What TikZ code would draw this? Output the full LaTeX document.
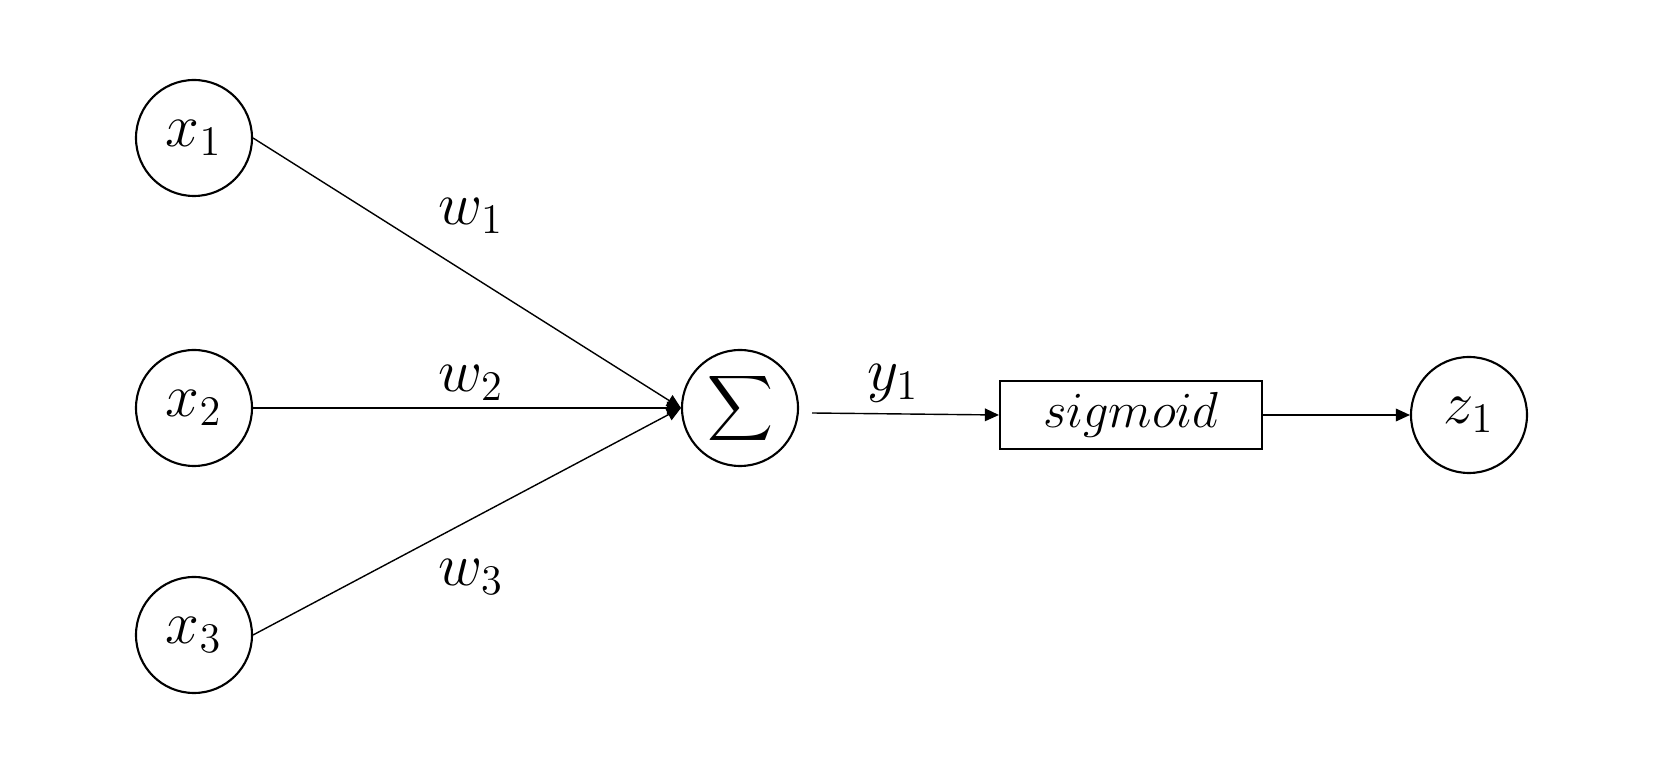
\documentclass[tikz,border=0pt]{standalone}
\usepackage{graphicx}
\usepackage{tikz}
\usetikzlibrary{arrows.meta}

\tikzset{
  unit/.style={draw, circle, line width=0.6pt, minimum size=1.16cm, inner sep=0pt, font=\fontsize{17}{20}\selectfont},
  actbox/.style={draw, rectangle, line width=0.6pt, minimum width=2.62cm, minimum height=0.68cm, inner sep=0pt, font=\fontsize{14.5}{17}\selectfont},
  wlabel/.style={font=\fontsize{17}{20}\selectfont},
  link/.style={line width=0.4pt, -{Triangle[length=4pt, width=3.6pt]}}
}

\begin{document}
\begin{tikzpicture}
  % Fix the page size
  \useasboundingbox (0,0) rectangle (16.59,7.82);

  % Input units
  \node[unit] (x1) at (1.94,6.44) {$x_1$};
  \node[unit] (x2) at (1.94,3.74) {$x_2$};
  \node[unit] (x3) at (1.94,1.47) {$x_3$};

  % Sum, activation and output
  \node[unit] (sum) at (7.40,3.74) {\scalebox{1.3}{$\displaystyle\sum$}};
  \node[actbox] (sig) at (11.31,3.67) {$sigmoid$};
  \node[unit] (z1) at (14.69,3.67) {$z_1$};
  \coordinate (yout) at (8.12,3.69);

  % Connections
  \draw[link] (x1.east) -- (sum.west);
  \draw[link] (x2.east) -- (sum.west);
  \draw[link] (x3.east) -- (sum.west);
  \draw[link] (yout) -- (sig.west);
  \draw[link] (sig.east) -- (z1.west);

  % Weights and output label
  \node[wlabel] (w1) at (4.71,5.66) {$w_1$};
  \node[wlabel] (w2) at (4.71,3.99) {$w_2$};
  \node[wlabel] (w3) at (4.71,2.05) {$w_3$};
  \node[wlabel] (y1) at (8.93,3.99) {$y_1$};
\end{tikzpicture}
\end{document}
